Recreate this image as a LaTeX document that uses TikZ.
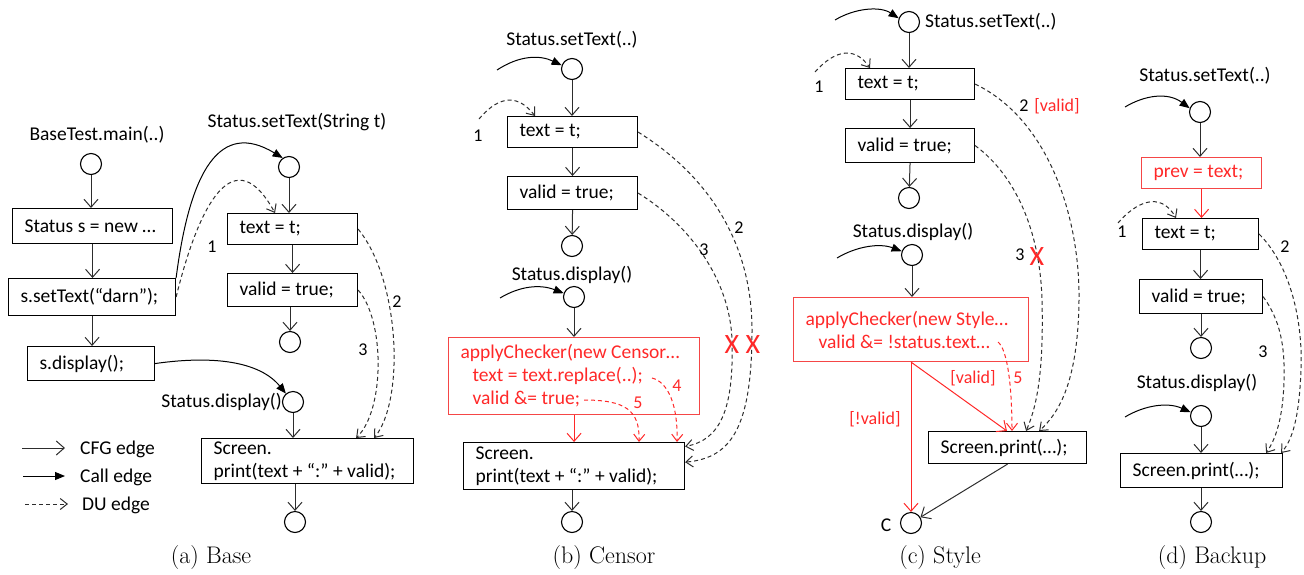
\documentclass[tikz,border=0pt]{standalone}
\usepackage{fontspec}
\newfontfamily\calfont{Carlito}
\usetikzlibrary{arrows.meta,calc}
\definecolor{edgegray}{RGB}{45,45,45}
\definecolor{chkred}{RGB}{255,40,40}
\definecolor{chkborder}{RGB}{245,70,70}
\newcommand\codefont{\calfont\fontsize{19.5}{23}\selectfont}
\newcommand\tightspaces{\frenchspacing\spaceskip=0.23em plus 0.04em minus 0.04em\xspaceskip=0pt\relax}
\newcommand\numfont{\calfont\fontsize{18}{20}\selectfont}

\begin{document}
\begin{tikzpicture}[x=1pt,y=-1pt,
  stmt/.style={draw=black, line width=1.1pt, inner xsep=12pt, inner ysep=0pt,
    align=left, anchor=north west, font=\codefont, text=black,
    execute at begin node=\tightspaces},
  chk/.style={stmt, draw=chkborder, text=chkred},
  entry/.style={circle, draw=black, line width=1.1pt, minimum size=21pt, inner sep=0pt},
  fname/.style={font=\codefont, inner sep=0pt, execute at begin node=\tightspaces},
  num/.style={font=\numfont, inner sep=0pt},
  rednum/.style={num, text=chkred},
  cfg/.style={draw=edgegray, line width=1pt, -{Straight Barb[length=8pt,width=14pt]}},
  redcfg/.style={cfg, draw=chkred},
  call/.style={draw=black, line width=1pt, -{Triangle[length=10pt,width=8pt]}},
  du/.style={draw=edgegray, line width=1pt, dash pattern=on 4pt off 3pt,
    -{Straight Barb[length=7pt,width=11pt]}},
  reddu/.style={du, draw=chkred},
  kill/.style={font=\calfont\fontsize{28}{30}\selectfont, text=chkred, inner sep=0pt},
  caption/.style={font=\fontsize{24}{28}\selectfont, inner sep=0pt}]
\useasboundingbox (0,0) rectangle (1304,574);

% ---------------- (a) Base ----------------
\node[fname] (a_l0) at (97,135) {BaseTest.main(..)};
\node[entry] (a_c0) at (91,164) {};
\node[stmt, text width=136pt, minimum height=35pt] (a_new) at (12,208) {\mbox{Status s = new …}};
\node[stmt, text width=143pt, minimum height=37pt] (a_set) at (8,278) {\mbox{s.setText(“darn”);}};
\node[stmt, text width=103pt, minimum height=34pt] (a_disp) at (27,346) {s.display();};
\node[fname] (a_l1) at (297,122) {Status.setText(String t)};
\node[entry] (a_c1) at (289,167) {};
\node[stmt, text width=106pt, minimum height=31pt] (a_text) at (227,213) {text = t;};
\node[stmt, text width=106pt, minimum height=33pt] (a_valid) at (227,273) {valid = true;};
\node[entry] (a_c2) at (290,342) {};
\node[fname, anchor=east] (a_l2) at (282,402) {Status.display()};
\node[entry] (a_c3) at (293,402) {};
\node[stmt, text width=188pt, minimum height=45pt] (a_scr) at (201,438) {Screen.\\\mbox{print(text + “:” + valid);}};
\node[entry] (a_c4) at (295,522) {};

\draw[cfg] (a_c0) -- (a_c0 |- a_new.north);
\draw[cfg] (a_new.south) -- (a_new.south |- a_set.north);
\draw[cfg] (a_set.south) -- (a_set.south |- a_disp.north);
\draw[cfg] (a_c1) -- (a_c1 |- a_text.north);
\draw[cfg] (a_text.south) -- (a_valid.north);
\draw[cfg] (a_valid.south -| a_c2) -- (a_c2);
\draw[cfg] (a_c3) -- (a_c3 |- a_scr.north);
\draw[cfg] (a_scr.south -| a_c4) -- (a_c4);

\draw[call] (a_set.north east) .. controls (190,170) and (220,120) .. (a_c1.125);
\draw[call] (a_disp.east) .. controls (215,355) and (260,362) .. (a_c3.130);

\coordinate (a_t1) at ($(a_text.north west)+(48,0)$);
\coordinate (a_t2) at ($(a_scr.north east)+(-40,0)$);
\coordinate (a_t3) at ($(a_scr.north east)+(-58,0)$);
\draw[du] (a_set.east) .. controls (200,200) and (235,140) .. (a_t1);
\draw[du] (a_text.east) .. controls (400,280) and (405,400) .. (a_t2);
\draw[du] (a_valid.east) .. controls (385,320) and (385,410) .. (a_t3);
\node[num] (a_n1) at (212,247) {1};
\node[num] (a_n2) at (397,302) {2};
\node[num] (a_n3) at (363,350) {3};

% legend
\coordinate (lg1a) at (22,448); \coordinate (lg1b) at (65,448);
\coordinate (lg2a) at (23,476); \coordinate (lg2b) at (65,476);
\coordinate (lg3a) at (25,504); \coordinate (lg3b) at (68,504);
\draw[cfg] (lg1a) -- (lg1b);
\draw[call] (lg2a) -- (lg2b);
\draw[du] (lg3a) -- (lg3b);
\node[fname, anchor=west] (lg1t) at (80,449) {CFG edge};
\node[fname, anchor=west] (lg2t) at (80,477) {Call edge};
\node[fname, anchor=west] (lg3t) at (82,505) {DU edge};

\node[caption] (cap_a) at (211,558) {(a) Base};

% ---------------- (b) Censor ----------------
\node[fname] (b_l0) at (572,40) {Status.setText(..)};
\node[entry] (b_c0) at (572,69) {};
\node[stmt, text width=106pt, minimum height=31pt] (b_text) at (507,116) {text = t;};
\node[stmt, text width=106pt, minimum height=33pt] (b_valid) at (507,176) {valid = true;};
\node[entry] (b_c1) at (572,246) {};
\node[fname] (b_l1) at (572,275) {Status.display()};
\node[entry] (b_c2) at (574,297) {};
\node[chk, text width=227pt, minimum height=77pt] (b_chk) at (448,337)
  {\mbox{applyChecker(new Censor…}\\\hspace*{12pt}text = text.replace(..);\\\hspace*{12pt}valid \&= true;};
\node[stmt, text width=197pt, minimum height=47pt] (b_scr) at (463,442) {Screen.\\\mbox{print(text + “:” + valid);}};
\node[entry] (b_c3) at (572,522) {};

\draw[cfg] (b_c0) -- (b_c0 |- b_text.north);
\draw[cfg] (b_text) -- (b_valid);
\draw[cfg] (b_valid.south) -- (b_c1);
\draw[cfg] (b_c2) -- (b_c2 |- b_chk.north);
\draw[redcfg] (b_chk.south) -- (b_chk.south |- b_scr.north);
\draw[cfg] (b_scr.south -| b_c3) -- (b_c3);

\coordinate (b_in0) at (497,70);
\coordinate (b_in1) at (500,298);
\draw[call] (b_in0) .. controls (520,55) and (540,55) .. (b_c0.160);
\draw[call] (b_in1) .. controls (520,286) and (540,284) .. (b_c2.160);

\coordinate (b_s1) at (479,119);
\coordinate (b_t1) at ($(b_text.north west)+(28,0)$);
\draw[du] (b_s1) .. controls (495,100) and (515,90) .. (b_t1);
\draw[du] (b_text.east) .. controls (715,180) and (752,250) .. (752,330)
  .. controls (752,430) and (730,458) .. (b_scr.2);
\draw[du] (b_valid.east) .. controls (690,225) and (730,280) .. (732,340)
  .. controls (734,410) and (720,440) .. (b_scr.10);

\coordinate (b_r4) at ($(b_chk.north west)+(204,41)$);
\coordinate (b_r5) at ($(b_chk.north west)+(136,63)$);
\coordinate (b_t4) at ($(b_scr.north west)+(214,0)$);
\coordinate (b_t5) at ($(b_scr.north west)+(176,0)$);
\draw[reddu] (b_r4) .. controls (668,382) and (678,405) .. (b_t4);
\draw[reddu] (b_r5) .. controls (625,400) and (640,410) .. (b_t5);

\node[num] (b_n1) at (478,136) {1};
\node[num] (b_n2) at (739,228) {2};
\node[num] (b_n3) at (704,250) {3};
\node[rednum] (b_n4) at (677,386) {4};
\node[rednum] (b_n5) at (638,403) {5};
\node[kill] (b_x3) at (732,345) {X};
\node[kill] (b_x2) at (753,345) {X};

\node[caption] (cap_b) at (604,558) {(b) Censor};

% ---------------- (c) Style ----------------
\node[entry] (c_c0) at (909,22) {};
\node[fname, anchor=west] (c_l0) at (925,22) {Status.setText(..)};
\node[stmt, text width=105pt, minimum height=31pt] (c_text) at (845,68) {text = t;};
\node[stmt, text width=105pt, minimum height=34pt] (c_valid) at (845,128) {valid = true;};
\node[entry] (c_c1) at (909,198) {};
\node[fname] (c_l1) at (913,232) {Status.display()};
\node[entry] (c_c2) at (912,255) {};
\node[chk, text width=211pt, minimum height=64pt] (c_chk) at (793,297)
  {\mbox{applyChecker(new Style…}\\\hspace*{13pt}valid \&= !status.text…};
\node[stmt, text width=134pt, minimum height=32pt] (c_scr) at (928,431) {Screen.print(…);};
\node[entry] (c_cc) at (911,523) {};
\node[fname] (c_lc) at (886,525) {C};

\draw[cfg] (c_c0) -- (c_c0 |- c_text.north);
\draw[cfg] (c_text) -- (c_valid);
\draw[cfg] (c_valid.south) -- (c_c1);
\draw[cfg] (c_c2) -- (c_c2 |- c_chk.north);
\draw[redcfg] (c_chk.south -| c_cc) -- (c_cc);
\coordinate (c_tv) at ($(c_scr.north west)+(79,0)$);
\draw[redcfg] (c_chk.south) -- (c_tv);
\draw[cfg] (c_scr.south) -- (c_cc);

\coordinate (c_in0) at (835,20);
\coordinate (c_in1) at (837,258);
\draw[call] (c_in0) .. controls (855,8) and (880,6) .. (c_c0.160);
\draw[call] (c_in1) .. controls (857,246) and (880,243) .. (c_c2.160);

\coordinate (c_s1) at (815,72);
\coordinate (c_t1) at ($(c_text.north west)+(25,0)$);
\draw[du] (c_s1) .. controls (830,55) and (852,42) .. (c_t1);
\coordinate (c_t2) at ($(c_scr.north east)+(-48,0)$);
\coordinate (c_t3) at ($(c_scr.north east)+(-61,0)$);
\draw[du] (c_text.east) .. controls (1050,120) and (1080,220) .. (1079,300)
  .. controls (1078,380) and (1060,412) .. (c_t2);
\draw[du] (c_valid.east) .. controls (1015,175) and (1040,230) .. (1042,300)
  .. controls (1044,380) and (1035,410) .. (c_t3);
\coordinate (c_r5) at ($(c_chk.north west)+(205,45)$);
\coordinate (c_t5) at ($(c_scr.north west)+(84,0)$);
\draw[reddu] (c_r5) .. controls (1008,350) and (1012,390) .. (c_t5);

\node[num] (c_n1) at (819,87) {1};
\node[num] (c_n2) at (1024,106) {2};
\node[rednum] (c_v2) at (1057,106) {[valid]};
\node[num] (c_n3) at (1020,255) {3};
\node[kill] (c_x3) at (1037,257) {X};
\node[rednum] (c_n5) at (1018,378) {5};
\node[rednum] (c_lv) at (973,378) {[valid]};
\node[rednum] (c_lnv) at (875,419) {[!valid]};

\node[caption] (cap_c) at (940,558) {(c) Style};

% ---------------- (d) Backup ----------------
\node[fname] (d_l0) at (1205,76) {Status.setText(..)};
\node[entry] (d_c0) at (1200,112) {};
\node[chk, text width=96pt, minimum height=31pt] (d_prev) at (1141,157) {prev = text;};
\node[stmt, text width=92pt, minimum height=31pt] (d_text) at (1142,218) {text = t;};
\node[stmt, text width=99pt, minimum height=34pt] (d_valid) at (1139,279) {valid = true;};
\node[entry] (d_c1) at (1201,348) {};
\node[fname] (d_l1) at (1197,383) {Status.display()};
\node[entry] (d_c2) at (1201,416) {};
\node[stmt, text width=138pt, minimum height=34pt] (d_scr) at (1120,453) {Screen.print(…);};
\node[entry] (d_c3) at (1201,522) {};

\draw[cfg] (d_c0) -- (d_c0 |- d_prev.north);
\draw[redcfg] (d_prev.south) -- (d_prev.south |- d_text.north);
\draw[cfg] (d_text.south) -- (d_text.south |- d_valid.north);
\draw[cfg] (d_valid.south -| d_c1) -- (d_c1);
\draw[cfg] (d_c2) -- (d_c2 |- d_scr.north);
\draw[cfg] (d_scr.south -| d_c3) -- (d_c3);

\coordinate (d_in0) at (1125,107);
\coordinate (d_in1) at (1125,417);
\draw[call] (d_in0) .. controls (1145,95) and (1168,92) .. (d_c0.160);
\draw[call] (d_in1) .. controls (1145,405) and (1168,402) .. (d_c2.160);

\coordinate (d_s1) at (1118,223);
\coordinate (d_t1) at ($(d_text.north west)+(34,0)$);
\draw[du] (d_s1) .. controls (1135,203) and (1160,190) .. (d_t1);
\coordinate (d_t2) at ($(d_scr.north east)+(-2,0)$);
\coordinate (d_t3) at ($(d_scr.north east)+(-17,0)$);
\draw[du] (d_text.east) .. controls (1290,265) and (1303,320) .. (1301,370)
  .. controls (1299,420) and (1292,440) .. (d_t2);
\draw[du] (d_valid.east) .. controls (1280,320) and (1285,345) .. (1284,380)
  .. controls (1283,420) and (1275,440) .. (d_t3);

\node[num] (d_n1) at (1122,232) {1};
\node[num] (d_n2) at (1285,247) {2};
\node[num] (d_n3) at (1263,352) {3};

\node[caption] (cap_d) at (1212,558) {(d) Backup};
\end{tikzpicture}
\end{document}
